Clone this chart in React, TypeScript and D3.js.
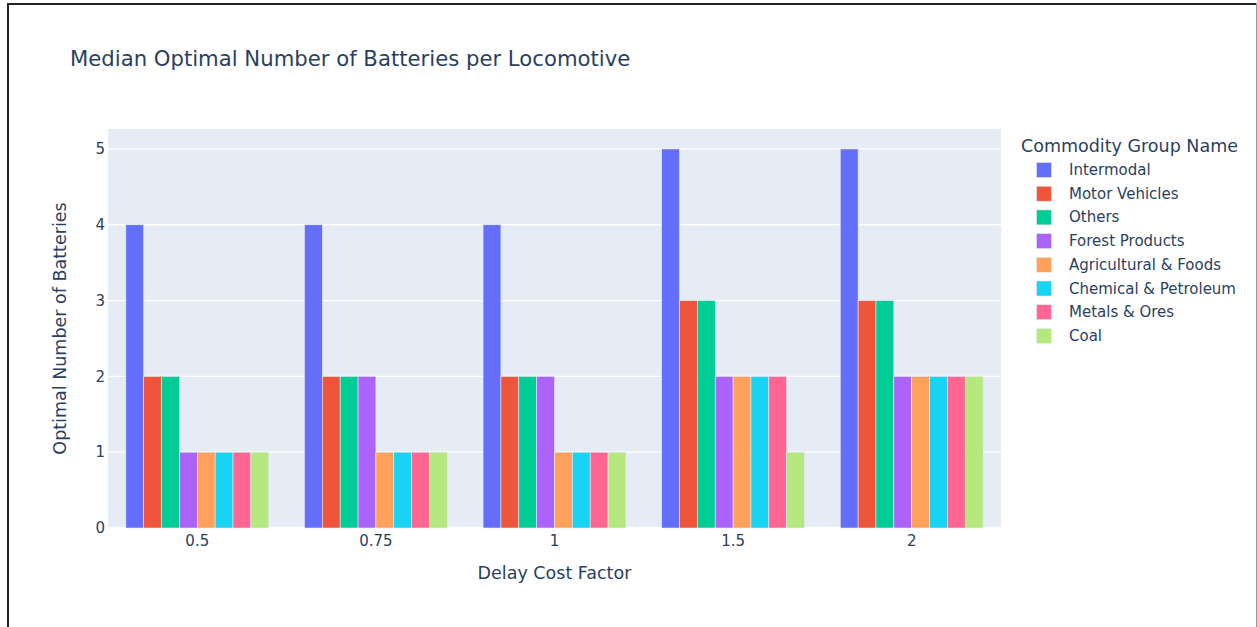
import React from "react";
import * as d3 from "d3";

const categories: string[] = ["0.5", "0.75", "1", "1.5", "2"];
const seriesNames: string[] = [
  "Intermodal",
  "Motor Vehicles",
  "Others",
  "Forest Products",
  "Agricultural & Foods",
  "Chemical & Petroleum",
  "Metals & Ores",
  "Coal",
];
const intermodal = [4, 4, 4, 5, 5];
const motorVehicles = [2, 2, 2, 3, 3];
const others = [2, 2, 2, 3, 3];
const forestProducts = [1, 2, 2, 2, 2];
const agriculturalFoods = [1, 1, 1, 2, 2];
const chemicalPetroleum = [1, 1, 1, 2, 2];
const metalsOres = [1, 1, 1, 2, 2];
const coal = [1, 1, 1, 1, 2];
const seriesValues: number[][] = [
  intermodal,
  motorVehicles,
  others,
  forestProducts,
  agriculturalFoods,
  chemicalPetroleum,
  metalsOres,
  coal,
];
const colors: string[] = [
  "#636efa",
  "#EF553B",
  "#00cc96",
  "#ab63fa",
  "#FFA15A",
  "#19d3f3",
  "#FF6692",
  "#B6E880",
];
const yTicks: number[] = [0, 1, 2, 3, 4, 5];

const W = 1257;
const H = 627;
const plot = { left: 108, right: 1001, top: 129, bottom: 528 };
const FONT = "'DejaVu Sans', Verdana, sans-serif";
const TXT = "#2a3f5f";

export default function App() {
  const x0 = d3
    .scaleBand<string>()
    .domain(categories)
    .range([plot.left, plot.right])
    .paddingInner(0.2)
    .paddingOuter(0.1);
  const xc = d3.scaleBand<string>().domain(categories).range([plot.left, plot.right]);
  const x1 = d3
    .scaleBand<string>()
    .domain(seriesNames)
    .range([0, x0.bandwidth()]);
  const y = d3
    .scaleLinear()
    .domain([0, 5 / 0.95])
    .range([plot.bottom, plot.top]);

  return (
    <svg
      width={W}
      height={H}
      style={{ position: "absolute", left: 0, top: 0, background: "#fff" }}
      fontFamily={FONT}
    >
      <rect x={0} y={0} width={W} height={H} fill="#fff" />
      {/* frame */}
      <line x1={7} x2={W} y1={4} y2={4} stroke="#222" strokeWidth={2} />
      <line x1={8} x2={8} y1={3} y2={H} stroke="#222" strokeWidth={2} />
      <line x1={1256.5} x2={1256.5} y1={3} y2={H} stroke="#999" strokeWidth={1} />

      <text x={70} y={66} fontSize={21.2} fill={TXT}>
        Median Optimal Number of Batteries per Locomotive
      </text>

      <rect
        x={plot.left}
        y={plot.top}
        width={plot.right - plot.left}
        height={plot.bottom - plot.top}
        fill="#E5ECF6"
      />
      {yTicks.map((t) => (
        <g key={t}>
          <line
            x1={plot.left}
            x2={plot.right}
            y1={y(t)}
            y2={y(t)}
            stroke="#fff"
            strokeWidth={t === 0 ? 2.5 : 1.3}
          />
          <text
            x={105}
            y={y(t)}
            dy="0.35em"
            textAnchor="end"
            fontSize={15}
            fill={TXT}
          >
            {t}
          </text>
        </g>
      ))}

      {categories.map((c, ci) => (
        <g key={c}>
          {seriesNames.map((s, si) => {
            const v = seriesValues[si][ci];
            const bx = (x0(c) as number) + (x1(s) as number);
            return (
              <rect
                key={s}
                x={bx}
                y={y(v)}
                width={x1.bandwidth()}
                height={y(0) - y(v)}
                fill={colors[si]}
                stroke="#E5ECF6"
                strokeWidth={0.6}
              />
            );
          })}
          <text
            x={(xc(c) as number) + xc.bandwidth() / 2}
            y={546}
            textAnchor="middle"
            fontSize={15}
            fill={TXT}
          >
            {c}
          </text>
        </g>
      ))}

      <text
        x={(plot.left + plot.right) / 2}
        y={579}
        textAnchor="middle"
        fontSize={17.5}
        fill={TXT}
      >
        Delay Cost Factor
      </text>
      <text
        transform={`translate(66,${(plot.top + plot.bottom) / 2}) rotate(-90)`}
        textAnchor="middle"
        fontSize={17.5}
        fill={TXT}
      >
        Optimal Number of Batteries
      </text>

      <text x={1021} y={152} fontSize={17.5} fill={TXT}>
        Commodity Group Name
      </text>
      {seriesNames.map((s, i) => {
        const cy = 170 + i * 23.7;
        return (
          <g key={s}>
            <rect
              x={1036.5}
              y={cy - 7.5}
              width={15}
              height={15}
              fill={colors[i]}
              stroke="#E5ECF6"
              strokeWidth={0.6}
            />
            <text x={1069} y={cy + 5} fontSize={15} fill={TXT}>
              {s}
            </text>
          </g>
        );
      })}
    </svg>
  );
}
